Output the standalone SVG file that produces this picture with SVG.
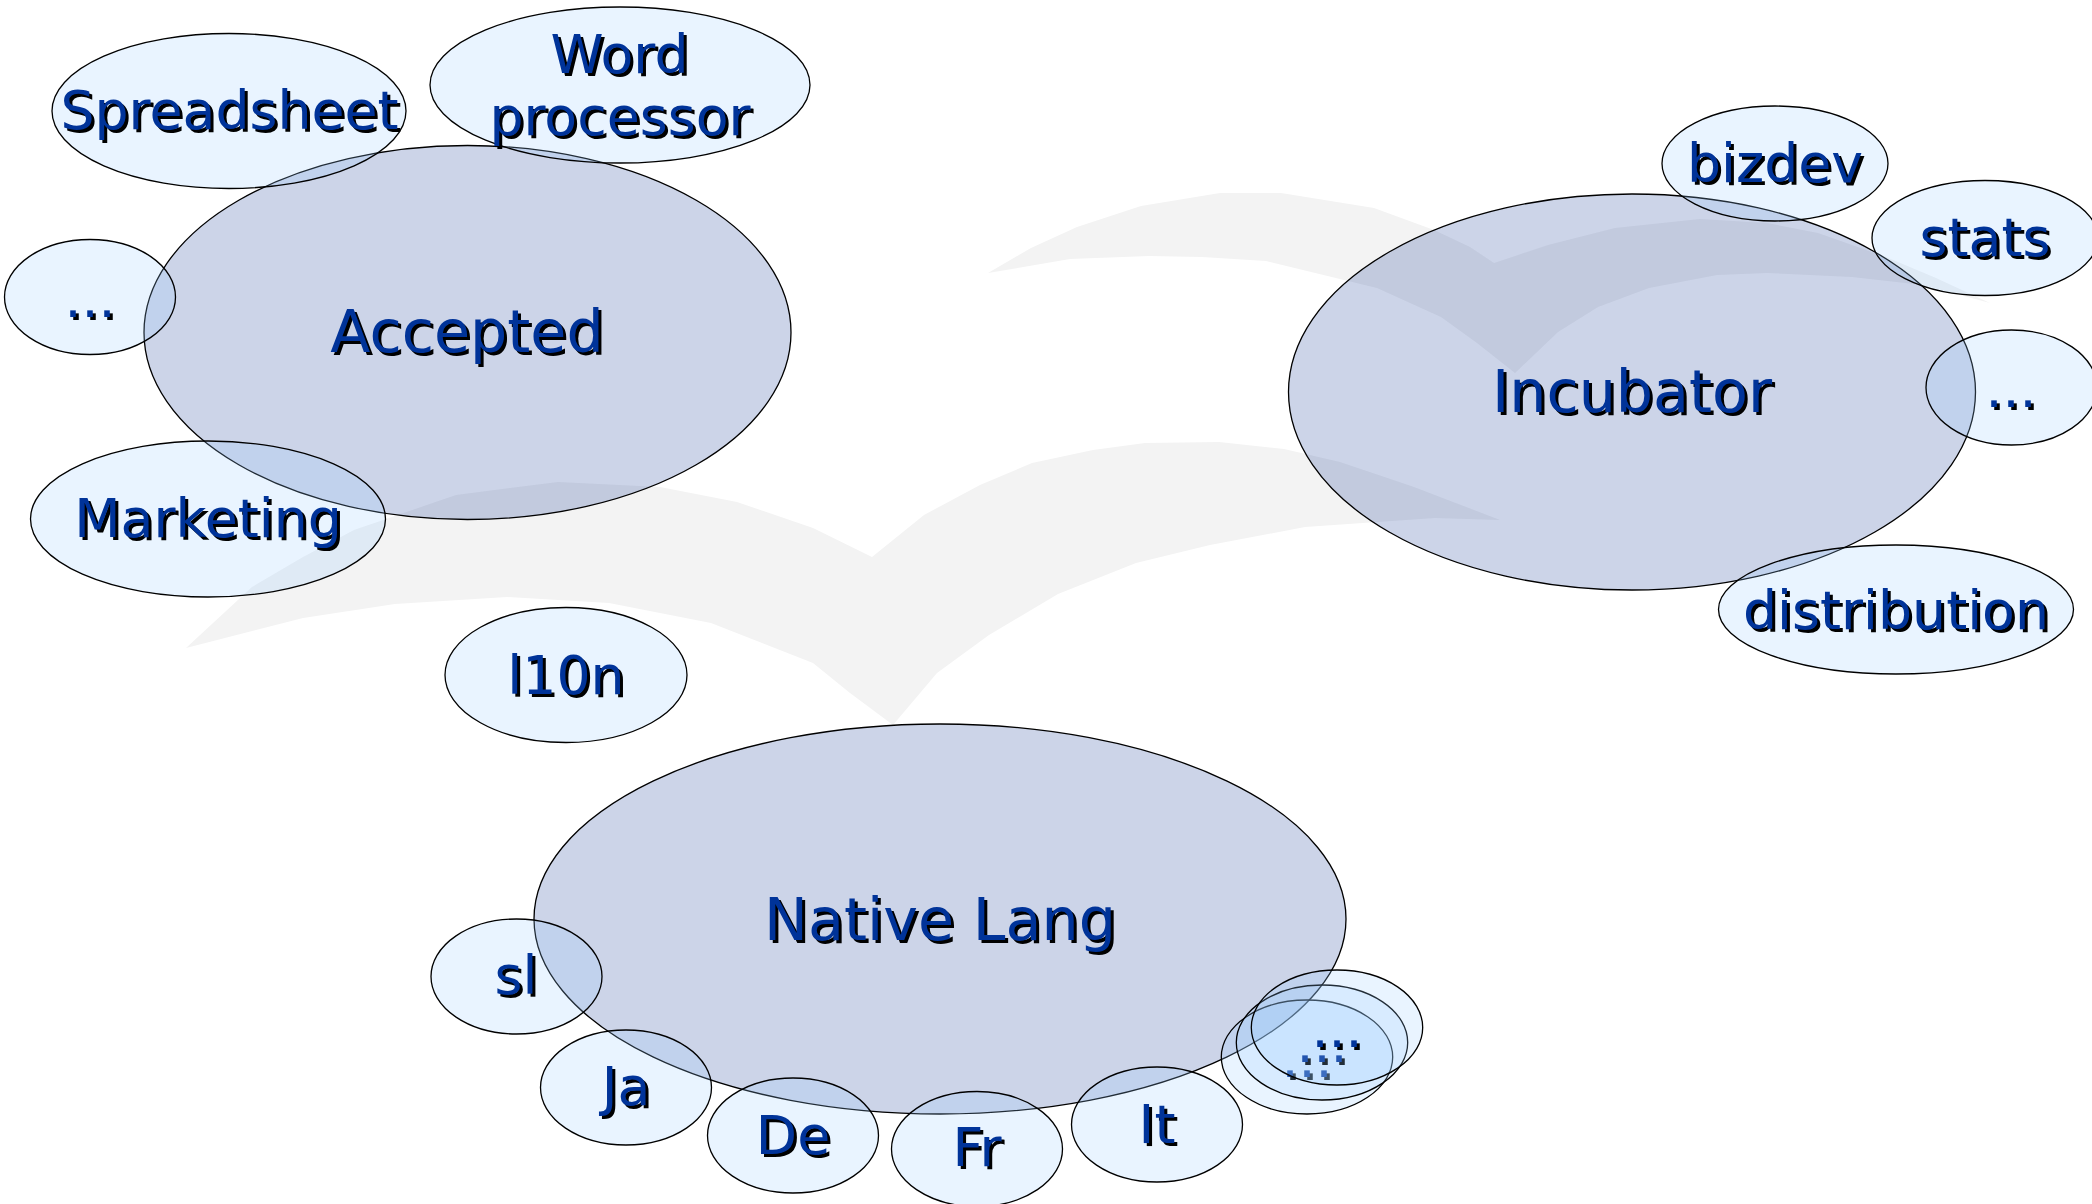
<svg xmlns="http://www.w3.org/2000/svg" width="2092" height="1204" viewBox="0 0 2092 1204">
<defs>
<filter id="sh" x="-10%" y="-20%" width="120%" height="140%" color-interpolation-filters="sRGB">
<feOffset in="SourceAlpha" dx="3" dy="3" result="o"/>
<feMerge><feMergeNode in="o"/><feMergeNode in="SourceGraphic"/></feMerge>
</filter>
</defs>
<style>
.big{fill:#00288c;fill-opacity:.2;stroke:#000;stroke-width:1.3}
.small{fill:#99ccff;fill-opacity:.22;stroke:#000;stroke-width:1.3}
text{font-family:"DejaVu Sans",sans-serif;fill:#003399;text-anchor:middle;filter:url(#sh)}
.bt{font-size:58.7px}
.st{font-size:53.7px}
.logo{fill:#f3f3f3}
</style>
<rect width="2092" height="1204" fill="#fff"/>
<polygon id="logo-bottom" class="logo" points="186,648 252,587 303,557 354,530 456,495 558,482 660,487 737,502 813,528 872,557 924,515 980,485 1032,463 1093,450 1145,443 1219,442 1284,449 1340,462 1414,487 1500,520 1435,518 1305,527 1210,545 1136,563 1058,594 989,635 937,673 893,725 850,693 813,663 711,623 609,603 507,597 395,604 303,618"/>
<polygon id="logo-top" class="logo" points="988,273 1031,248 1077,227 1141,206 1220,193 1281,193 1374,208 1434,230 1470,247 1494,263 1548,245 1615,228 1700,219 1767,223 1818,233 1886,257 1936,278 1990,303 1923,285 1852,277 1767,273 1717,275 1649,288 1598,307 1558,332 1515,373 1477,343 1441,317 1377,288 1266,261 1202,257 1149,256 1070,259"/>
<g id="connectors"/>
<g id="accepted"><ellipse class="big" cx="467.500" cy="332.500" rx="323.500" ry="187"/><text class="bt" x="467" y="351.500">Accepted</text></g>
<g id="incubator"><ellipse class="big" cx="1632" cy="392" rx="343.500" ry="198"/><text class="bt" x="1632" y="411.500">Incubator</text></g>
<g id="native-lang"><ellipse class="big" cx="940" cy="919" rx="406" ry="195"/><text class="bt" x="940" y="939.500">Native Lang</text></g>
<g id="spreadsheet"><ellipse class="small" cx="229" cy="111" rx="177" ry="77.500"/><text class="st" x="229.500" y="129">Spreadsheet</text></g>
<g id="word-processor"><ellipse class="small" cx="620" cy="85" rx="190" ry="78"/><text class="st" x="619.500" y="72.500">Word</text><text class="st" x="620" y="134.500">processor</text></g>
<g id="accepted-more"><ellipse class="small" cx="90" cy="297" rx="85.500" ry="57.500"/><text class="st" x="90" y="317">...</text></g>
<g id="marketing"><ellipse class="small" cx="208" cy="519" rx="177.500" ry="78"/><text class="st" x="208" y="537">Marketing</text></g>
<g id="l10n"><ellipse class="small" cx="566" cy="675" rx="121" ry="67.500"/><text class="st" x="566" y="694">l10n</text></g>
<g id="bizdev"><ellipse class="small" cx="1775" cy="163.500" rx="113" ry="57.500"/><text class="st" x="1775" y="181.500">bizdev</text></g>
<g id="stats"><ellipse class="small" cx="1985" cy="238" rx="113" ry="57.500"/><text class="st" x="1985" y="256">stats</text></g>
<g id="incubator-more"><ellipse class="small" cx="2011.500" cy="387.500" rx="85.500" ry="57.500"/><text class="st" x="2011" y="407">...</text></g>
<g id="distribution"><ellipse class="small" cx="1896" cy="609.500" rx="177.500" ry="64.500"/><text class="st" x="1896" y="628.500">distribution</text></g>
<g id="sl"><ellipse class="small" cx="516.500" cy="976.500" rx="85.500" ry="57.500"/><text class="st" x="516" y="994">sl</text></g>
<g id="ja"><ellipse class="small" cx="626" cy="1087.500" rx="85.500" ry="57.500"/><text class="st" x="626" y="1105">Ja</text></g>
<g id="de"><ellipse class="small" cx="793" cy="1135.500" rx="85.500" ry="57.500"/><text class="st" x="793" y="1153.500">De</text></g>
<g id="fr"><ellipse class="small" cx="977" cy="1149" rx="85.500" ry="57.500"/><text class="st" x="977" y="1166">Fr</text></g>
<g id="it"><ellipse class="small" cx="1157" cy="1124.500" rx="85.500" ry="57.500"/><text class="st" x="1157" y="1142.500">It</text></g>
<g id="more-a"><ellipse class="small" cx="1307" cy="1057" rx="85.700" ry="57"/><text class="st" x="1307" y="1077">...</text></g>
<g id="more-b"><ellipse class="small" cx="1322" cy="1042.500" rx="85.700" ry="57.500"/><text class="st" x="1322" y="1062">...</text></g>
<g id="more-c"><ellipse class="small" cx="1337" cy="1027.500" rx="85.700" ry="57.500"/><text class="st" x="1337" y="1047">...</text></g>
</svg>
